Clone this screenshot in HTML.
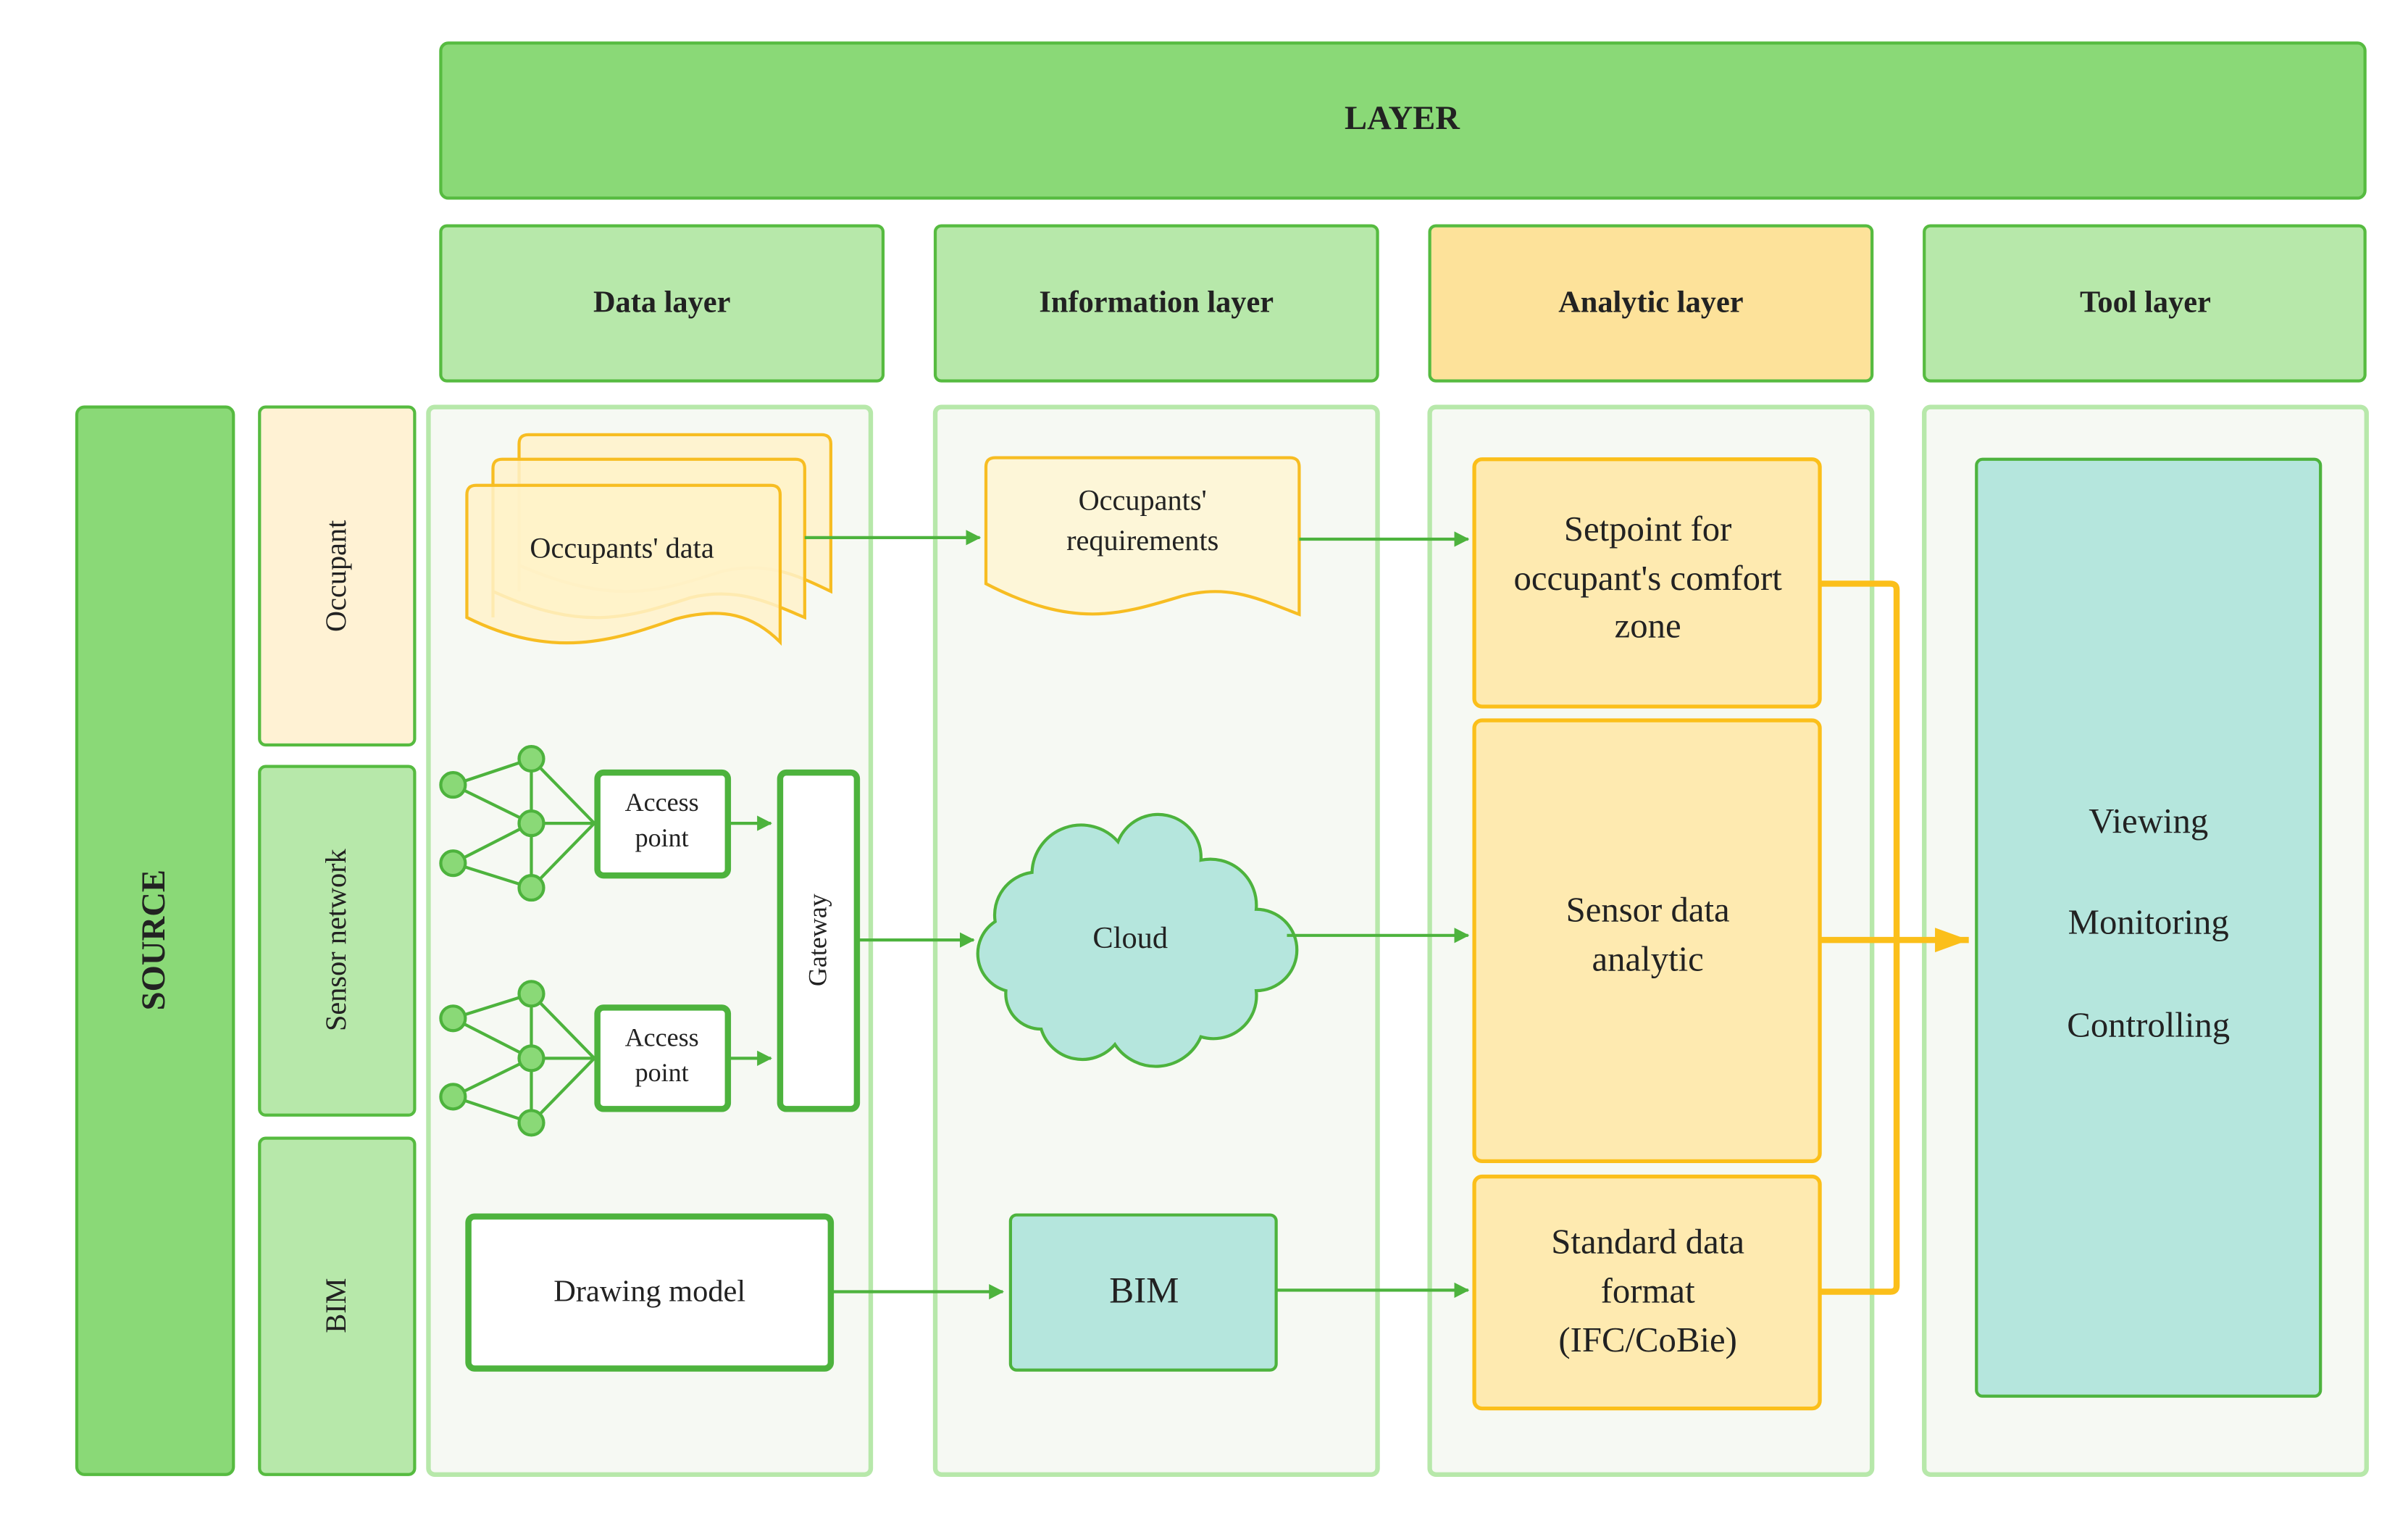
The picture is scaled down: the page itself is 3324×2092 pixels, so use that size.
<!DOCTYPE html>
<html><head><meta charset="utf-8"><style>
html,body{margin:0;padding:0;background:#fff;}
svg{display:block;}
text{font-family:"Liberation Serif",serif;fill:#222;}
</style></head><body>
<svg width="3324" height="2092" viewBox="0 0 1568 987" preserveAspectRatio="none" xmlns="http://www.w3.org/2000/svg">
<defs>
<marker id="ag" markerWidth="10" markerHeight="10" refX="9" refY="5" orient="auto" markerUnits="userSpaceOnUse"><path d="M0,0 L14,5 L0,10 Z" fill="#4db33d" transform="scale(0.7,1)"/></marker>
<marker id="ay" markerWidth="24" markerHeight="20" refX="22" refY="10" orient="auto" markerUnits="userSpaceOnUse"><path d="M0,2 L22,10 L0,18 Z" fill="#fbbf1a"/></marker>
</defs>
<rect width="1568" height="987" fill="#fff"/>
<rect x="287" y="28" width="1253" height="101" rx="5" fill="#8ad977" stroke="#56bb40" stroke-width="2"/>
<text x="913" y="84" font-size="22" font-weight="bold" text-anchor="middle">LAYER</text>
<g stroke="#56bb40" stroke-width="2">
<rect x="287" y="147" width="288" height="101" rx="4" fill="#b7e8aa"/>
<rect x="609" y="147" width="288" height="101" rx="4" fill="#b7e8aa"/>
<rect x="931" y="147" width="288" height="101" rx="4" fill="#fde29a"/>
<rect x="1253" y="147" width="287" height="101" rx="4" fill="#b7e8aa"/>
</g>
<g font-size="20" font-weight="bold" text-anchor="middle">
<text x="431" y="203">Data layer</text>
<text x="753" y="203">Information layer</text>
<text x="1075" y="203">Analytic layer</text>
<text x="1397" y="203">Tool layer</text>
</g>
<rect x="50" y="265" width="102" height="695" rx="5" fill="#8ad977" stroke="#56bb40" stroke-width="2"/>
<text transform="translate(107,612) rotate(-90)" font-size="22" font-weight="bold" text-anchor="middle">SOURCE</text>
<g stroke="#56bb40" stroke-width="2">
<rect x="169" y="265" width="101" height="220" rx="4" fill="#fff2d4"/>
<rect x="169" y="499" width="101" height="227" rx="4" fill="#b7e8aa"/>
<rect x="169" y="741" width="101" height="219" rx="4" fill="#b7e8aa"/>
</g>
<g font-size="19" text-anchor="middle">
<text transform="translate(225,375) rotate(-90)">Occupant</text>
<text transform="translate(225,612) rotate(-90)">Sensor network</text>
<text transform="translate(225,850) rotate(-90)">BIM</text>
</g>
<g fill="#f6f9f3" stroke="#b7e8aa" stroke-width="3">
<rect x="279" y="265" width="288" height="695" rx="4"/>
<rect x="609" y="265" width="288" height="695" rx="4"/>
<rect x="931" y="265" width="288" height="695" rx="4"/>
<rect x="1253" y="265" width="288" height="695" rx="4"/>
</g>
<g fill="#fff2c9" fill-opacity="0.85" stroke="#f7bd22" stroke-width="2">
<path d="M338,385 V289 Q338,283 344,283 H535 Q541,283 541,289 V385 C520,375 500,365 470,372 C430,385 400,395 338,368 Z"/>
<path d="M321,402 V305 Q321,299 327,299 H518 Q524,299 524,305 V402 C500,392 480,382 450,389 C410,402 380,412 321,385 Z"/>
<path d="M304,402 V322 Q304,316 310,316 H502 Q508,316 508,322 V418 C490,400 470,395 440,403 C400,417 360,430 304,402 Z"/>
</g>
<text x="405" y="363" font-size="19" text-anchor="middle">Occupants' data</text>
<line x1="524" y1="350" x2="638" y2="350" stroke="#4db33d" stroke-width="2" marker-end="url(#ag)"/>
<path d="M642,304 Q642,298 648,298 H840 Q846,298 846,304 V400 C820,390 800,380 770,388 C730,400 700,410 642,380 Z" fill="#fdf6d8" stroke="#f7bd22" stroke-width="2"/>
<text x="744" y="332" font-size="19" text-anchor="middle">Occupants'</text>
<text x="744" y="358" font-size="19" text-anchor="middle">requirements</text>
<line x1="846" y1="351" x2="956" y2="351" stroke="#4db33d" stroke-width="2" marker-end="url(#ag)"/>
<g fill="#feeab0" stroke="#fbbf1a" stroke-width="2.5">
<rect x="960" y="299" width="225" height="161" rx="5"/>
<rect x="960" y="469" width="225" height="287" rx="5"/>
<rect x="960" y="766" width="225" height="151" rx="5"/>
</g>
<g font-size="23" text-anchor="middle">
<text x="1073" y="352">Setpoint for</text>
<text x="1073" y="384">occupant's comfort</text>
<text x="1073" y="415">zone</text>
<text x="1073" y="600">Sensor data</text>
<text x="1073" y="632">analytic</text>
<text x="1073" y="816">Standard data</text>
<text x="1073" y="848">format</text>
<text x="1073" y="880">(IFC/CoBie)</text>
</g>
<rect x="1287" y="299" width="224" height="610" rx="4" fill="#b5e6dd" stroke="#4db33d" stroke-width="2"/>
<g font-size="23" text-anchor="middle">
<text x="1399" y="542">Viewing</text>
<text x="1399" y="608">Monitoring</text>
<text x="1399" y="675">Controlling</text>
</g>
<path d="M1185,380 H1231 Q1235,380 1235,384 V837 Q1235,841 1231,841 H1185" fill="none" stroke="#fbbf1a" stroke-width="4"/>
<line x1="1185" y1="612" x2="1282" y2="612" stroke="#fbbf1a" stroke-width="4" marker-end="url(#ay)"/>
<g stroke="#4db33d" stroke-width="2" fill="none">
<path d="M295,511 L346,494 M295,511 L346,536 M295,562 L346,536 M295,562 L346,578 M346,494 V578 M346,494 L387,536 M346,536 H387 M346,578 L387,536"/>
<path d="M295,663 L346,647 M295,663 L346,689 M295,714 L346,689 M295,714 L346,731 M346,647 V731 M346,647 L387,689 M346,689 H387 M346,731 L387,689"/>
</g>
<g fill="#8ad977" stroke="#4db33d" stroke-width="2">
<circle cx="295" cy="511" r="8"/><circle cx="295" cy="562" r="8"/><circle cx="346" cy="494" r="8"/><circle cx="346" cy="536" r="8"/><circle cx="346" cy="578" r="8"/>
<circle cx="295" cy="663" r="8"/><circle cx="295" cy="714" r="8"/><circle cx="346" cy="647" r="8"/><circle cx="346" cy="689" r="8"/><circle cx="346" cy="731" r="8"/>
</g>
<g fill="#fff" stroke="#4db33d" stroke-width="4">
<rect x="389" y="503" width="85" height="67" rx="4"/>
<rect x="389" y="656" width="85" height="66" rx="4"/>
<rect x="508" y="503" width="50" height="219" rx="4"/>
<rect x="305" y="792" width="236" height="99" rx="4"/>
</g>
<g font-size="17" text-anchor="middle">
<text x="431" y="528">Access</text><text x="431" y="551">point</text>
<text x="431" y="681">Access</text><text x="431" y="704">point</text>
<text transform="translate(538,612) rotate(-90)">Gateway</text>
</g>
<line x1="474" y1="536" x2="502" y2="536" stroke="#4db33d" stroke-width="2" marker-end="url(#ag)"/>
<line x1="474" y1="689" x2="502" y2="689" stroke="#4db33d" stroke-width="2" marker-end="url(#ag)"/>
<line x1="558" y1="612" x2="634" y2="612" stroke="#4db33d" stroke-width="2" marker-end="url(#ag)"/>
<path d="M655,645 A25,25 0 0 1 648,600 A28,28 0 0 1 672,568 A32,32 0 0 1 728,548 A28,28 0 0 1 782,560 A30,30 0 0 1 818,592 A26,26 0 0 1 818,645 A28,28 0 0 1 782,675 A32,32 0 0 1 726,680 A28,28 0 0 1 678,670 A23,23 0 0 1 655,645 Z" fill="#b5e6dd" stroke="#4db33d" stroke-width="2"/>
<text x="736" y="617" font-size="20" text-anchor="middle">Cloud</text>
<line x1="838" y1="609" x2="956" y2="609" stroke="#4db33d" stroke-width="2" marker-end="url(#ag)"/>
<text x="423" y="847" font-size="20" text-anchor="middle">Drawing model</text>
<line x1="541" y1="841" x2="653" y2="841" stroke="#4db33d" stroke-width="2" marker-end="url(#ag)"/>
<rect x="658" y="791" width="173" height="101" rx="4" fill="#b5e6dd" stroke="#4db33d" stroke-width="2"/>
<text x="745" y="848" font-size="24" text-anchor="middle">BIM</text>
<line x1="831" y1="840" x2="956" y2="840" stroke="#4db33d" stroke-width="2" marker-end="url(#ag)"/>
</svg>
</body></html>
